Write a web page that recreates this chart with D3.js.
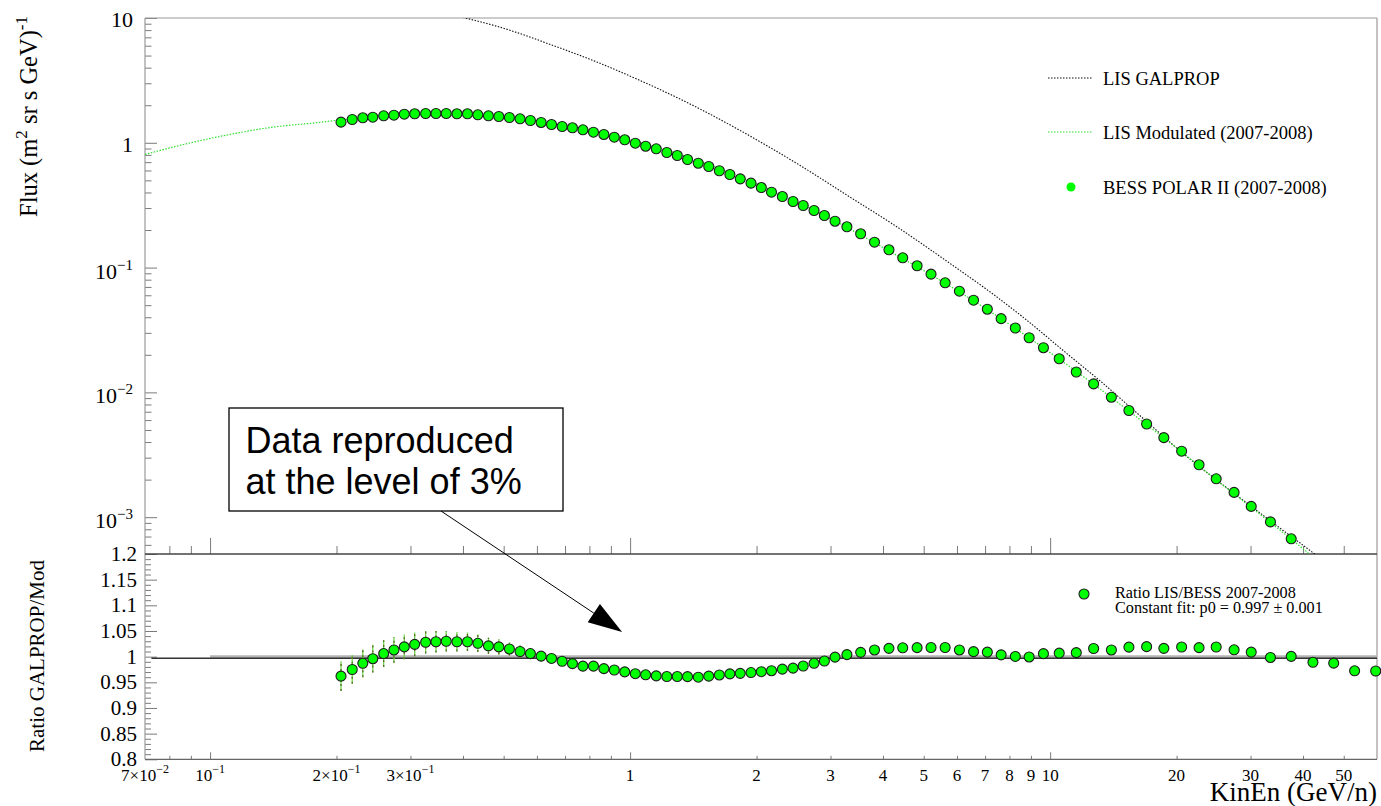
<!DOCTYPE html>
<html>
<head>
<meta charset="utf-8">
<script src="https://cdn.jsdelivr.net/npm/d3@7/dist/d3.min.js"></script>
<style>
  html, body { margin: 0; padding: 0; background: #fff; }
  svg { display: block; }
  text { font-family: "Liberation Serif", "Times New Roman", serif; fill: #000; }
</style>
</head>
<body>
<svg id="chart" width="1381" height="806"></svg>
<script>
// ---- BESS-Polar II (2007-2008) measurements ----
const energies = [0.205,0.218,0.231,0.244,0.259,0.274,0.290,0.307,0.326,0.345,
  0.365,0.387,0.410,0.434,0.460,0.487,0.516,0.547,0.579,0.614,
  0.650,0.689,0.729,0.772,0.818,0.866,0.917,0.971,1.029,1.089,
  1.154,1.223,1.295,1.370,1.453,1.539,1.631,1.728,1.829,1.940,
  2.053,2.171,2.304,2.443,2.583,2.741,2.901,3.075,3.282,3.539,
  3.818,4.133,4.457,4.822,5.205,5.623,6.081,6.571,7.087,7.644,
  8.262,8.913,9.639,10.51,11.54,12.69,13.99,15.40,16.97,18.65,
  20.56,22.62,24.85,27.41,30.11,33.46,37.49,42.23,47.32,53.07,59.57];

const fluxBess = [1.463,1.537,1.586,1.604,1.645,1.664,1.695,1.708,1.717,1.717,
  1.717,1.708,1.708,1.676,1.645,1.624,1.595,1.557,1.509,1.455,
  1.402,1.351,1.319,1.271,1.216,1.166,1.109,1.057,0.993,0.939,
  0.895,0.836,0.791,0.735,0.686,0.646,0.597,0.557,0.514,0.475,
  0.438,0.402,0.371,0.3385,0.3145,0.2868,0.2615,0.2353,0.2123,0.1866,
  0.1598,0.1389,0.1198,0.1034,0.0886,0.0755,0.0647,0.0548,0.0464,0.0390,
  0.0328,0.0274,0.0228,0.0186,0.01457,0.01170,0.00915,0.00716,0.00558,0.00434,
  0.00338,0.00263,0.00203,0.00158,0.00122,0.000917,0.000671,0.000486,0.000356,0.000261,0.000190];

const ratioBess = [0.962,0.975,0.987,0.996,1.006,1.013,1.019,1.024,1.028,1.029,
  1.030,1.029,1.029,1.026,1.021,1.019,1.015,1.010,1.006,1.001,
  0.9965,0.991,0.9865,0.9815,0.9815,0.9766,0.974,0.9704,0.9668,0.9646,
  0.9626,0.9613,0.9613,0.961,0.960,0.962,0.9643,0.9665,0.9675,0.969,
  0.9707,0.9726,0.9756,0.9776,0.9818,0.987,0.9915,0.999,1.004,1.0084,
  1.013,1.0162,1.0172,1.0175,1.0178,1.0178,1.013,1.0097,1.0088,1.0035,
  1.0004,0.9994,1.0058,1.0068,1.0078,1.0159,1.013,1.0185,1.0195,1.0162,
  1.0188,1.0175,1.0188,1.0133,1.0088,0.9984,1.0006,0.989,0.9873,0.9724,0.972];

const ratioErr = [0.029,0.028,0.027,0.027,0.026,0.025,0.024,0.023,0.022,0.021,
  0.020,0.019,0.018,0.017,0.016,0.015,0.013,0.012,0.011,0.010,
  0.009,0.008,0.007,0.006,0.006,0.005,0.005,0.005,0.005,0.005,
  0.004,0.004,0.004,0.004,0.004,0.004,0.004,0.004,0.004,0.004,
  0.004,0.004,0.004,0.004,0.004,0.004,0.004,0.004,0.004,0.004,
  0.004,0.004,0.004,0.004,0.004,0.004,0.004,0.004,0.004,0.004,
  0.004,0.004,0.004,0.004,0.004,0.004,0.004,0.004,0.004,0.004,
  0.005,0.005,0.006,0.006,0.007,0.007,0.008,0.008,0.009,0.009,0.010];

// ---- GALPROP local interstellar spectrum ----
const galpropE = [0.40,0.490,0.656,0.816,1.056,1.413,1.828,2.540,3.341,4.229,5.779,7.316,
  8.814,10.74,13.37,16.65,20.73,24.98,29.94,36.67,42.76,46.0];
const galpropF = [10.1,8.44,6.02,4.566,3.157,1.990,1.255,0.658,0.3665,0.222,0.1078,0.0612,
  0.0377,0.02166,0.01179,0.00618,0.00324,0.00197,0.00124,0.00074,0.000502,0.00041];

// ---- LIS modulated to the 2007-2008 solar conditions ----
const modE = [0.07,0.0864,0.1136,0.145,0.1762,0.1984,0.25,0.30,0.35,0.42,0.50,0.60,0.70,0.80,
  1.0,1.2,1.5,2.0,2.5,3.0,4.0,5.0,6.0,8.0,10,13,16,20,25,30,37,43,46];
const modF = [0.806,0.969,1.181,1.351,1.44,1.509,1.62,1.664,1.669,1.644,1.583,1.476,1.354,1.267,
  1.059,0.890,0.691,0.469,0.335,0.247,0.1448,0.0946,0.0656,0.0351,0.0208,0.01095,0.00642,
  0.00359,0.00196,0.00121,0.00069,0.000455,0.00037];

const fitP0 = 0.997;

// ---- tick labels ----
const xLabelValues = [0.07,0.1,0.2,0.3,1,2,3,4,5,6,7,8,9,10,20,30,40,50];
const xLabelMant = ["7×10","10","2×10","3×10","1","2","3","4","5","6","7","8","9","10","20","30","40","50"];
const xLabelExp  = ["−2","−1","−1","−1","","","","","","","","","","","","","",""];
const fluxLabelValues = [10,1,0.1,0.01,0.001];
const fluxLabelMant = ["10","1","10","10","10"];
const fluxLabelExp  = ["","","−1","−2","−3"];
const ratioLabelValues = [1.2,1.15,1.1,1.05,1,0.95,0.9,0.85,0.8];
const ratioLabelText = ["1.2","1.15","1.1","1.05","1","0.95","0.9","0.85","0.8"];

// ---- layout ----
const plotL = 145, plotR = 1377, topT = 18, topB = 554, ratB = 759.3;
const svg = d3.select("#chart");

const x  = d3.scaleLog().domain([0.07, 60]).range([plotL, plotR]);
const yF = d3.scaleLog().domain([5.07e-4, 10]).range([topB, topT]);
const yR = d3.scaleLinear().domain([0.8, 1.2]).range([ratB, topB]);

const isDecade = v => Math.abs(Math.log10(v) - Math.round(Math.log10(v))) < 1e-9;

svg.append("defs").append("clipPath").attr("id", "topClip")
  .append("rect").attr("x", plotL).attr("y", topT)
  .attr("width", plotR - plotL).attr("height", topB - topT);

const axisColor = "#7a7a7a";
function styleAxis(g) {
  g.select(".domain").remove();
  g.selectAll(".tick line").attr("stroke", axisColor).attr("stroke-width", 1);
  g.selectAll(".tick text").remove();
}

// ---- x ticks ----
const xTicks = x.ticks().filter(v => v > 0.0701 && v < 59.9);
const xMajor = xTicks.filter(isDecade);
const xMinor = xTicks.filter(v => !isDecade(v));

svg.append("g").attr("transform", `translate(0,${topB})`)
  .call(d3.axisBottom(x).tickValues(xMinor).tickSize(-8).tickFormat("")).call(styleAxis);
svg.append("g").attr("transform", `translate(0,${topB})`)
  .call(d3.axisBottom(x).tickValues(xMajor).tickSize(-16).tickFormat("")).call(styleAxis);
svg.append("g").attr("transform", `translate(0,${ratB})`)
  .call(d3.axisBottom(x).tickValues(xMinor).tickSize(-3.5).tickFormat("")).call(styleAxis);
svg.append("g").attr("transform", `translate(0,${ratB})`)
  .call(d3.axisBottom(x).tickValues(xMajor).tickSize(-7).tickFormat("")).call(styleAxis);

// ---- flux y ticks ----
const fTicks = yF.ticks();
svg.append("g").attr("transform", `translate(${plotL},0)`)
  .call(d3.axisLeft(yF).tickValues(fTicks.filter(v => !isDecade(v))).tickSize(-6.5).tickFormat("")).call(styleAxis);
svg.append("g").attr("transform", `translate(${plotL},0)`)
  .call(d3.axisLeft(yF).tickValues(fTicks.filter(isDecade)).tickSize(-12).tickFormat("")).call(styleAxis);

// ---- ratio y ticks ----
const rMinor = d3.range(0, 41).map(i => +(0.8 + i * 0.01).toFixed(2)).filter(v => Math.round(v * 100) % 5 !== 0);
svg.append("g").attr("transform", `translate(${plotL},0)`)
  .call(d3.axisLeft(yR).tickValues(rMinor).tickSize(-6).tickFormat("")).call(styleAxis);
svg.append("g").attr("transform", `translate(${plotL},0)`)
  .call(d3.axisLeft(yR).tickValues(ratioLabelValues).tickSize(-12).tickFormat("")).call(styleAxis);

// ---- frames ----
const frame = svg.append("g").attr("fill", "none");
frame.append("line").attr("x1", plotL).attr("x2", plotR).attr("y1", topT).attr("y2", topT).attr("stroke", "#9a9a9a").attr("stroke-width", 1.2);
frame.append("line").attr("x1", plotL).attr("x2", plotL).attr("y1", topT).attr("y2", ratB).attr("stroke", "#9a9a9a").attr("stroke-width", 1.2);
frame.append("line").attr("x1", plotR).attr("x2", plotR).attr("y1", topT).attr("y2", ratB).attr("stroke", "#9a9a9a").attr("stroke-width", 1.2);
frame.append("line").attr("x1", plotL).attr("x2", plotR).attr("y1", topB).attr("y2", topB).attr("stroke", "#444").attr("stroke-width", 1.3);
frame.append("line").attr("x1", plotL).attr("x2", plotR).attr("y1", ratB).attr("y2", ratB).attr("stroke", "#666").attr("stroke-width", 1.2);

// ---- labels ----
function supLabel(px, py, mant, exp, size, supSize, anchor, rise) {
  const t = svg.append("text").attr("x", px).attr("y", py)
    .attr("text-anchor", anchor).style("font-size", size + "px");
  t.append("tspan").text(mant);
  if (exp) t.append("tspan").attr("dy", -rise).style("font-size", supSize + "px").text(exp);
  return t;
}

xLabelValues.forEach((v, i) => {
  supLabel(x(v), 781, xLabelMant[i], xLabelExp[i], 17, 12, "middle", 8);
});
fluxLabelValues.forEach((v, i) => {
  const hasExp = fluxLabelExp[i] !== "";
  supLabel(133, yF(v) + (hasExp ? 11 : 9), fluxLabelMant[i], fluxLabelExp[i], 22, 15, "end", 9);
});
ratioLabelValues.forEach((v, i) => {
  svg.append("text").attr("x", 137).attr("y", yR(v) + 7)
    .attr("text-anchor", "end").style("font-size", "21px").text(ratioLabelText[i]);
});

// axis titles
svg.append("text").attr("x", plotR).attr("y", 801).attr("text-anchor", "end")
  .style("font-size", "27px").text("KinEn (GeV/n)");

const fluxTitle = svg.append("text").attr("transform", "translate(37,16) rotate(-90)")
  .attr("text-anchor", "end").style("font-size", "24.5px");
fluxTitle.append("tspan").text("Flux (m");
fluxTitle.append("tspan").attr("dy", -10).style("font-size", "17px").text("2");
fluxTitle.append("tspan").attr("dy", 10).text(" sr s GeV)");
fluxTitle.append("tspan").attr("dy", -10).style("font-size", "17px").text("-1");

svg.append("text").attr("transform", "translate(44,656) rotate(-90)")
  .attr("text-anchor", "middle").style("font-size", "21px").text("Ratio GALPROP/Mod");

// ---- curves in the flux panel ----
const curveLine = d3.line().x(d => x(d[0])).y(d => yF(d[1])).curve(d3.curveMonotoneX);
const topPlot = svg.append("g").attr("clip-path", "url(#topClip)");

topPlot.append("path").datum(galpropE.map((e, i) => [e, galpropF[i]]))
  .attr("d", curveLine).attr("fill", "none").attr("stroke", "#111")
  .attr("stroke-width", 1.1).attr("stroke-dasharray", "1.5 1.5");

topPlot.append("path").datum(modE.map((e, i) => [e, modF[i]]))
  .attr("d", curveLine).attr("fill", "none").attr("stroke", "#2ee02e")
  .attr("stroke-width", 1.2).attr("stroke-dasharray", "1.5 1.5");

const markerFill = "#00ff00", markerStroke = "#1c1c1c";
const bess = energies.map((e, i) => ({ e, f: fluxBess[i], r: ratioBess[i], err: ratioErr[i] }));

// markers are drawn only when their centre lies inside the frame
const fMin = yF.domain()[0];
topPlot.selectAll("circle.flux").data(bess.filter(d => d.f >= fMin)).join("circle")
  .attr("class", "flux")
  .attr("cx", d => x(d.e)).attr("cy", d => yF(d.f)).attr("r", 5)
  .attr("fill", markerFill).attr("stroke", markerStroke).attr("stroke-width", 1.1);

// ---- ratio panel ----
svg.append("line")
  .attr("x1", x(0.1)).attr("x2", plotR).attr("y1", yR(1)).attr("y2", yR(1))
  .attr("stroke", "#b4b4b4").attr("stroke-width", 3);
svg.append("line")
  .attr("x1", x(0.0725)).attr("x2", plotR).attr("y1", yR(fitP0)).attr("y2", yR(fitP0))
  .attr("stroke", "#333").attr("stroke-width", 1.5);

const errG = svg.append("g");
errG.selectAll("line.eg").data(bess).join("line")
  .attr("x1", d => x(d.e)).attr("x2", d => x(d.e))
  .attr("y1", d => yR(d.r - d.err)).attr("y2", d => yR(d.r + d.err))
  .attr("stroke", "#6fd64a").attr("stroke-width", 1.3);
errG.selectAll("line.ed").data(bess).join("line")
  .attr("x1", d => x(d.e)).attr("x2", d => x(d.e))
  .attr("y1", d => yR(d.r - d.err)).attr("y2", d => yR(d.r + d.err))
  .attr("stroke", "#5b6b2a").attr("stroke-width", 1.3).attr("stroke-dasharray", "2 3");

svg.append("g").selectAll("circle").data(bess).join("circle")
  .attr("cx", d => x(d.e)).attr("cy", d => yR(d.r)).attr("r", 5)
  .attr("fill", markerFill).attr("stroke", markerStroke).attr("stroke-width", 1.1);

// ---- legends ----
const leg = svg.append("g");
leg.append("line").attr("x1", 1048).attr("x2", 1093).attr("y1", 78).attr("y2", 78)
  .attr("stroke", "#111").attr("stroke-width", 1.1).attr("stroke-dasharray", "1.5 1.5");
leg.append("text").attr("x", 1103).attr("y", 85).style("font-size", "18.5px").text("LIS GALPROP");
leg.append("line").attr("x1", 1048).attr("x2", 1093).attr("y1", 132).attr("y2", 132)
  .attr("stroke", "#2ee02e").attr("stroke-width", 1.2).attr("stroke-dasharray", "1.5 1.5");
leg.append("text").attr("x", 1103).attr("y", 138.5).style("font-size", "18.5px").text("LIS Modulated (2007-2008)");
leg.append("circle").attr("cx", 1071).attr("cy", 187).attr("r", 4.5).attr("fill", markerFill);
leg.append("text").attr("x", 1103).attr("y", 193.5).style("font-size", "18.5px").text("BESS POLAR II (2007-2008)");

leg.append("circle").attr("cx", 1084).attr("cy", 594).attr("r", 5)
  .attr("fill", markerFill).attr("stroke", markerStroke).attr("stroke-width", 1.1);
leg.append("text").attr("x", 1115).attr("y", 597.5).style("font-size", "16.2px").text("Ratio LIS/BESS 2007-2008");
leg.append("text").attr("x", 1115).attr("y", 612.5).style("font-size", "16.2px").text("Constant fit: p0 = 0.997 ± 0.001");

// ---- annotation ----
const note = svg.append("g");
note.append("rect").attr("x", 229).attr("y", 408).attr("width", 334).attr("height", 103)
  .attr("fill", "#fff").attr("stroke", "#000").attr("stroke-width", 1.3);
note.append("text").attr("x", 245.5).attr("y", 453).style("font-family", "'Liberation Sans', Arial, sans-serif")
  .style("font-size", "36px").text("Data reproduced");
note.append("text").attr("x", 245.5).attr("y", 493.5).style("font-family", "'Liberation Sans', Arial, sans-serif")
  .style("font-size", "36px").text("at the level of 3%");

const a0 = [441, 511];
const a1 = [x(0.957), yR(1.048)];
const ang = Math.atan2(a1[1] - a0[1], a1[0] - a0[0]);
const headLen = 34, headHalf = 11;
const bx = a1[0] - headLen * Math.cos(ang), by = a1[1] - headLen * Math.sin(ang);
note.append("line").attr("x1", a0[0]).attr("y1", a0[1]).attr("x2", bx).attr("y2", by)
  .attr("stroke", "#000").attr("stroke-width", 1);
note.append("path")
  .attr("d", `M${a1[0]},${a1[1]} L${bx - headHalf * Math.sin(ang)},${by + headHalf * Math.cos(ang)} L${bx + headHalf * Math.sin(ang)},${by - headHalf * Math.cos(ang)} Z`)
  .attr("fill", "#000");
</script>
</body>
</html>
